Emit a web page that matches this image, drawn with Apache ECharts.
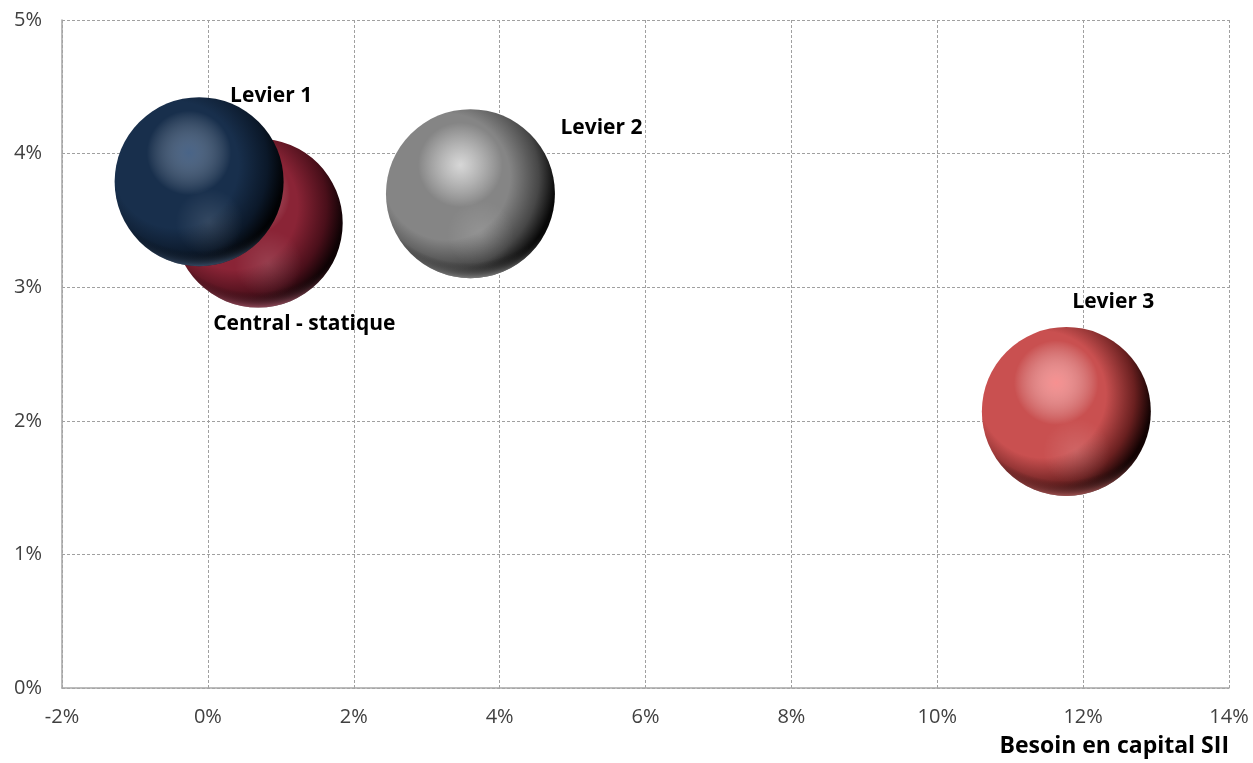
<!DOCTYPE html>
<html><head><meta charset="utf-8">
<script src="https://cdn.jsdelivr.net/npm/echarts@6/dist/echarts.min.js"></script>
<style>html,body{margin:0;padding:0;background:#fff}#c{width:1253px;height:763px}</style>
</head><body><div id="c"></div>
<script>
// Data (percent units)
const names   = ['Central - statique', 'Levier 1', 'Levier 2', 'Levier 3'];
const xValues = [0.69, -0.12, 3.60, 11.77];   // Besoin en capital SII
const yValues = [3.48, 3.79, 3.70, 2.07];
const sizes   = [1, 1, 1, 1];
const xAxisTitle = 'Besoin en capital SII';

// Styles (kept apart from data): [body, dark, edge, highlight, rim]
const palette = {
  'Central - statique': ['#8a2436', '#4a0f1a', '#0e0204', 'rgba(195,75,95,0.55)', 'rgba(225,120,145,0.7)'],
  'Levier 1':           ['#182f4c', '#0b1829', '#010204', 'rgba(105,135,175,0.6)', 'rgba(90,120,160,0.7)'],
  'Levier 2':           ['#858585', '#474747', '#080808', 'rgba(235,235,235,0.8)', 'rgba(200,200,200,0.7)'],
  'Levier 3':           ['#c95050', '#6a2020', '#120202', 'rgba(255,155,155,0.85)', 'rgba(235,125,125,0.75)']
};
const labelOffsets = {
  'Central - statique': [-45, 101],
  'Levier 1': [31, -86],
  'Levier 2': [90, -66],
  'Levier 3': [6, -109]
};
const maxDiameter = 169;
const maxSize = Math.max(...sizes);
const RG = echarts.graphic.RadialGradient;

function renderBall(params, api) {
  const i = params.dataIndex;
  const n = names[i];
  const c = palette[n];
  const pt = api.coord([api.value(0), api.value(1)]);
  const r = maxDiameter * Math.sqrt(api.value(2) / maxSize) / 2;
  const off = labelOffsets[n];
  const shape = { cx: pt[0], cy: pt[1], r: r };
  return {
    type: 'group',
    children: [
      { type: 'circle', shape: shape, style: { fill: new RG(0.36, 0.4, 0.68, [
          { offset: 0, color: c[0] }, { offset: 0.55, color: c[0] },
          { offset: 0.8, color: c[1] }, { offset: 0.95, color: c[2] }, { offset: 1, color: c[2] }]) } },
      { type: 'circle', shape: shape, style: { fill: new RG(0.44, 0.33, 0.25, [
          { offset: 0, color: c[3] }, { offset: 1, color: 'rgba(255,255,255,0)' }]) } },
      { type: 'circle', shape: shape, style: { fill: new RG(0.56, 0.74, 0.2, [
          { offset: 0, color: 'rgba(255,255,255,0.12)' }, { offset: 1, color: 'rgba(255,255,255,0)' }]) } },
      { type: 'circle', shape: shape, style: { fill: new RG(0.48, 0.28, 0.73, [
          { offset: 0, color: 'rgba(0,0,0,0)' }, { offset: 0.86, color: 'rgba(0,0,0,0)' },
          { offset: 1, color: c[4] }]) } },
      { type: 'text', style: {
          text: n, x: pt[0] + off[0], y: pt[1] + off[1],
          align: 'left', verticalAlign: 'middle', textAlign: 'left', textVerticalAlign: 'middle',
          font: 'bold 21px "Open Sans"', fill: '#000' } }
    ]
  };
}

const ballData = names.map((n, i) => ({ name: n, value: [xValues[i], yValues[i], sizes[i]] }));

const axisFont = { fontFamily: 'Open Sans', fontSize: 20, color: '#404040' };

const chart = echarts.init(document.getElementById('c'), null, { renderer: 'canvas' });
chart.setOption({
  animation: false,
  backgroundColor: '#ffffff',
  grid: { left: 62, right: 24, top: 20, bottom: 75, containLabel: false },
  xAxis: {
    type: 'value', min: -2, max: 14, interval: 2,
    name: xAxisTitle, nameLocation: 'end', nameGap: 0,
    nameTextStyle: { fontFamily: 'Open Sans', fontSize: 23, fontWeight: 'bold', color: '#000',
      align: 'right', verticalAlign: 'top', padding: [47, 0, 0, 0] },
    axisLine: { show: true, onZero: false, lineStyle: { color: '#a6a6a6', width: 1.5 } },
    axisTick: { show: false },
    axisLabel: Object.assign({ margin: 19, formatter: '{value}%' }, axisFont),
    splitLine: { show: true, lineStyle: { color: '#a0a0a0', type: [3, 2], width: 1 } }
  },
  yAxis: {
    type: 'value', min: 0, max: 5, interval: 1,
    axisLine: { show: true, onZero: false, lineStyle: { color: '#a6a6a6', width: 1.5 } },
    axisTick: { show: false },
    axisLabel: Object.assign({ margin: 20, formatter: '{value}%' }, axisFont),
    splitLine: { show: true, lineStyle: { color: '#a0a0a0', type: [3, 2], width: 1 } }
  },
  series: [{
    type: 'custom',
    renderItem: renderBall,
    data: ballData,
    encode: { x: 0, y: 1 },
    silent: true
  }]
});
</script></body></html>
